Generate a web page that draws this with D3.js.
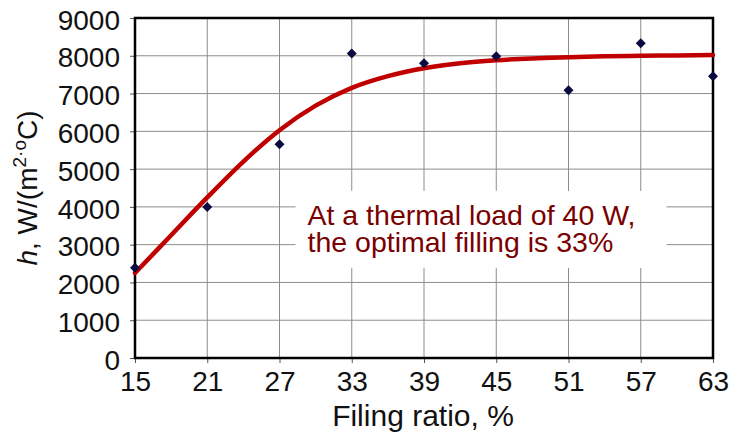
<!DOCTYPE html>
<html>
<head>
<meta charset="utf-8">
<script src="https://cdnjs.cloudflare.com/ajax/libs/d3/7.8.5/d3.min.js"></script>
<style>
  body { margin:0; background:#fff; }
  svg { display:block; font-family:"Liberation Sans", Arial, sans-serif; }
  .grid line { stroke:#8c8c8c; stroke-width:1; }
  .axis text { font-size:28px; fill:#111; }
  .axis path, .axis line { stroke:#555; }
</style>
</head>
<body>
<div id="chart"></div>
<script>
// measured points
var fillRatio = [15, 21, 27, 33, 39, 45, 51, 57, 63];
var hValues = [2390, 4000, 5660, 8060, 7800, 7990, 7090, 8330, 7460];

// fitted trend line
var fitX = [15, 18, 21, 24, 27, 30, 33, 36, 39, 42, 45, 48, 51, 54, 57, 60, 63];
var fitY = [2250, 3250, 4250, 5200, 6030, 6680, 7150, 7460, 7670, 7800, 7880, 7930, 7960, 7985, 8000, 8010, 8020];

var xTicks = [15, 21, 27, 33, 39, 45, 51, 57, 63];
var yTicks = [0, 1000, 2000, 3000, 4000, 5000, 6000, 7000, 8000, 9000];

var margin = {top: 18, right: 22, bottom: 76, left: 135};
var W = 735, H = 434;
var width = W - margin.left - margin.right;
var height = H - margin.top - margin.bottom;

var svg = d3.select("#chart").append("svg")
  .attr("width", W).attr("height", H);
var g = svg.append("g")
  .attr("transform", "translate(" + margin.left + "," + margin.top + ")");

var x = d3.scaleLinear().domain([15, 63]).range([0, width]);
var y = d3.scaleLinear().domain([0, 9000]).range([height, 0]);

// grid
g.append("g").attr("class", "grid")
  .selectAll("line").data(xTicks).enter().append("line")
  .attr("x1", d => x(d)).attr("x2", d => x(d))
  .attr("y1", 0).attr("y2", height);
g.append("g").attr("class", "grid")
  .selectAll("line").data(yTicks).enter().append("line")
  .attr("x1", 0).attr("x2", width)
  .attr("y1", d => y(d)).attr("y2", d => y(d));

// white box behind the note
g.append("rect")
  .attr("x", x(27) + 16).attr("y", y(4000) - 16)
  .attr("width", 371).attr("height", 77)
  .attr("fill", "#fff");

// axes
var xAxis = d3.axisBottom(x).tickValues(xTicks).tickSize(5).tickPadding(8);
g.append("g").attr("class", "axis")
  .attr("transform", "translate(0," + height + ")")
  .call(xAxis)
  .call(s => s.select(".domain").remove())
  .selectAll("text").attr("dy", "0.71em");

var yAxis = d3.axisLeft(y).tickValues(yTicks).tickFormat(d3.format("d")).tickSize(5).tickPadding(10);
g.append("g").attr("class", "axis")
  .call(yAxis)
  .call(s => s.select(".domain").remove())
  .selectAll("text").attr("dy", "0.40em");

// frame
g.append("rect")
  .attr("x", 0).attr("y", 0).attr("width", width).attr("height", height)
  .attr("fill", "none").attr("stroke", "#000").attr("stroke-width", 2.5);

// trend curve
var line = d3.line()
  .x((d, i) => x(fitX[i]))
  .y(d => y(d))
  .curve(d3.curveMonotoneX);
g.append("path")
  .datum(fitY)
  .attr("d", line)
  .attr("fill", "none")
  .attr("stroke", "#c00000")
  .attr("stroke-width", 4.5)
  .attr("stroke-linecap", "round");

// points
g.selectAll(".pt").data(hValues).enter().append("path")
  .attr("class", "pt")
  .attr("d", d3.symbol().type(d3.symbolDiamond2).size(64))
  .attr("transform", (d, i) => "translate(" + x(fillRatio[i]) + "," + y(d) + ")")
  .attr("fill", "#0a0a40");

// note
var note = g.append("text")
  .attr("fill", "#7a0000")
  .attr("font-size", 28.5);
note.append("tspan").attr("x", x(27) + 28).attr("y", y(4000) + 18).text("At a thermal load of 40 W,");
note.append("tspan").attr("x", x(27) + 28).attr("y", y(4000) + 45).text("the optimal filling is 33%");

// axis titles
svg.append("text")
  .attr("x", margin.left + width / 2 - 1).attr("y", 426)
  .attr("text-anchor", "middle")
  .attr("font-size", 30).attr("fill", "#111")
  .text("Filing ratio, %");

var yt = svg.append("text")
  .attr("transform", "translate(37," + (margin.top + height / 2) + ") rotate(-90)")
  .attr("text-anchor", "middle")
  .attr("font-size", 28).attr("fill", "#111");
yt.append("tspan").attr("font-style", "italic").text("h");
yt.append("tspan").text(", W/(m");
yt.append("tspan").attr("font-size", 19).attr("dy", -11).text("2");
yt.append("tspan").attr("font-size", 19).text("·o");
yt.append("tspan").attr("dy", 11).text("C)");
</script>
</body>
</html>
